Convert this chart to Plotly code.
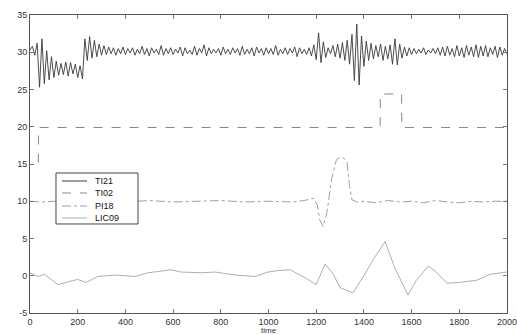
import plotly.graph_objects as go

# ---- data ----
t_ti21 = list(range(0, 2001, 10))
ti21 = [
    30.3, 30.8, 29.6, 31.2, 25.3, 31.8, 25.8, 30.2, 26.3, 29.4,
    26.6, 28.8, 26.9, 28.5, 27.0, 28.7, 26.8, 28.6, 27.1, 28.4,
    26.6, 28.2, 26.4, 31.8, 28.9, 32.1, 29.2, 31.6, 29.4, 31.1,
    29.6, 30.9, 29.7, 30.7, 29.8, 30.6, 29.6, 30.5, 29.8, 30.7,
    29.7, 30.5, 29.9, 30.6, 29.6, 30.4, 29.8, 30.8, 29.7, 30.5,
    29.5, 30.6, 29.9, 30.4, 29.7, 30.9, 29.6, 30.5, 29.8, 30.6,
    29.7, 30.4, 29.9, 30.7, 29.5, 30.6, 29.8, 30.3, 29.7, 30.8,
    29.6, 30.5, 29.9, 31.0, 29.5, 30.6, 29.8, 30.4, 29.9, 30.5,
    29.6, 30.7, 29.8, 30.4, 29.7, 30.6, 29.9, 30.5, 29.6, 30.8,
    29.7, 30.4, 29.8, 30.6, 29.5, 30.7, 29.9, 30.5, 29.6, 30.6,
    29.8, 30.5, 29.7, 30.9, 29.6, 30.4, 29.8, 30.6, 29.7, 30.5,
    29.9, 30.7, 29.4, 30.6, 29.8, 30.4, 29.7, 30.6, 29.5, 31.0,
    29.0, 32.6, 28.6, 31.4, 29.3, 30.6, 29.8, 30.9, 29.4, 31.1,
    29.2, 31.3, 28.9, 31.6, 28.4, 32.4, 26.2, 33.8, 25.6, 32.2,
    28.1, 31.5, 28.9, 31.2, 29.1, 30.9, 29.4, 31.1, 28.9, 30.8,
    29.1, 31.0, 28.4, 31.8, 28.3, 31.1, 29.2, 30.7, 29.5, 30.6,
    29.7, 30.5, 29.8, 30.4, 29.9, 30.6, 29.7, 30.3, 29.9, 30.5,
    29.8, 30.6, 29.6, 30.7, 29.5, 30.8, 29.6, 30.5, 29.4, 30.9,
    29.5, 30.6, 29.3, 30.9, 29.6, 30.7, 29.4, 31.0, 29.3, 30.8,
    29.5, 30.9, 29.4, 30.6, 29.7, 30.8, 29.3, 30.7, 29.6, 30.5,
    29.8,
]

t_ti02 = [35, 36, 1468, 1469, 1558, 1559, 2000]
ti02 = [15.2, 19.9, 19.9, 24.4, 24.4, 19.9, 19.9]

t_pi18 = [0, 50, 100, 200, 300, 400, 500, 600, 700, 800, 900, 1000, 1100,
          1150, 1190, 1205, 1215, 1229, 1245, 1265, 1285, 1300, 1315, 1329,
          1340, 1350, 1370, 1400, 1450, 1500, 1550, 1600, 1650, 1700, 1750,
          1800, 1850, 1900, 1950, 2000]
pi18 = [10.0, 9.9, 10.0, 9.8, 10.0, 9.9, 10.1, 9.9, 10.0, 10.1, 9.9, 10.0, 9.9,
        10.1, 10.4, 9.5, 7.5, 6.6, 8.5, 13.0, 15.6, 15.9, 15.8, 15.2,
        12.0, 10.2, 9.9, 10.0, 9.8, 10.1, 9.9, 10.0, 9.8, 10.1, 9.9,
        9.8, 10.0, 9.9, 10.0, 10.0]

t_lic09 = [0, 34, 60, 117, 160, 200, 235, 285, 356, 440, 495, 591, 633, 717,
           776, 860, 943, 998, 1040, 1090, 1161, 1200, 1237, 1270, 1300, 1354,
           1400, 1440, 1489, 1530, 1585, 1620, 1670, 1700, 1748, 1800, 1874,
           1929, 2000]
lic09 = [0.4, -0.1, 0.2, -1.2, -0.8, -0.5, -0.9, -0.1, 0.1, -0.1, 0.4, 0.8, 0.5, 0.4,
         0.5, 0.1, -0.1, 0.5, 0.7, 0.8, -0.4, -1.2, 1.6, 0.3, -1.6, -2.3,
         0.0, 2.2, 4.6, 1.0, -2.6, -0.6, 1.3, 0.6, -1.0, -0.9, -0.6,
         0.2, 0.5]

series_names = ["TI21", "TI02", "PI18", "LIC09"]
x_ticks = [0, 200, 400, 600, 800, 1000, 1200, 1400, 1600, 1800, 2000]
y_ticks = [-5, 0, 5, 10, 15, 20, 25, 30, 35]

styles = [
    dict(color="#3a3a3a", width=0.9, dash="solid"),
    dict(color="#888888", width=1, dash="dash"),
    dict(color="#a0a0a0", width=1, dash="dashdot"),
    dict(color="#b0b0b0", width=1, dash="solid"),
]
xs = [t_ti21, t_ti02, t_pi18, t_lic09]
ys = [ti21, ti02, pi18, lic09]

fig = go.Figure()
for name, x, y, st in zip(series_names, xs, ys, styles):
    fig.add_trace(go.Scatter(x=x, y=y, name=name, mode="lines", line=st,
                             showlegend=False))

# ---- legend box (drawn in paper coordinates) ----
shapes = [dict(type="rect", xref="paper", yref="paper", x0=0.0545, x1=0.2264,
               y0=0.2987, y1=0.4698, line=dict(color="#444", width=1),
               fillcolor="white", layer="above")]
annotations = []
row_y = [0.4430, 0.4027, 0.3591, 0.3188]
for name, st, ry in zip(series_names, styles, row_y):
    shapes.append(dict(type="line", xref="paper", yref="paper", x0=0.0671, x1=0.1195,
                       y0=ry, y1=ry, line=dict(color=st["color"], width=1, dash=st["dash"]),
                       layer="above"))
    annotations.append(dict(text=name, xref="paper", yref="paper", x=0.1321, y=ry,
                            xanchor="left", yanchor="middle", showarrow=False,
                            font=dict(family="Liberation Sans", size=9, color="#111")))

annotations.append(dict(text="time", x=0.5, xref="paper", y=0, yref="paper",
                        yanchor="top", yshift=-12, showarrow=False, borderpad=0,
                        font=dict(family="Liberation Sans", size=8, color="#333")))

axis_common = dict(showgrid=False, zeroline=False, showline=True, linecolor="#555",
                   linewidth=1, mirror="ticks", ticks="inside", ticklen=4,
                   tickcolor="#777", automargin=False, ticklabeloverflow="allow",
                   tickfont=dict(family="Liberation Sans", size=9, color="#333"))

fig.update_layout(
    width=517, height=335,
    margin=dict(l=30, r=10, t=15, b=22),
    paper_bgcolor="white", plot_bgcolor="white",
    showlegend=False,
    xaxis=dict(range=[0, 2000], tickvals=x_ticks, ticktext=[str(v) for v in x_ticks],
               **axis_common),
    yaxis=dict(range=[-5, 35], tickvals=y_ticks, ticktext=[str(v) for v in y_ticks],
               **axis_common),
    shapes=shapes,
    annotations=annotations,
)

fig.write_html("out.html")
